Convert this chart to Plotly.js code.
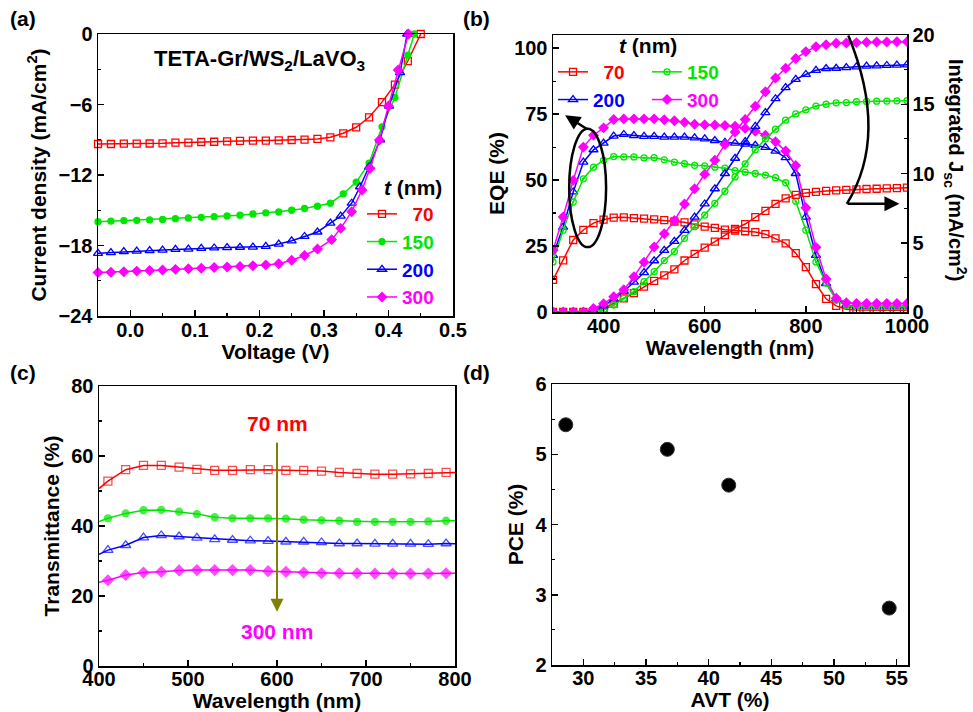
<!DOCTYPE html>
<html>
<head>
<meta charset="utf-8">
<script src="https://cdn.plot.ly/plotly-3.0.1.min.js"></script>
<style>html,body{margin:0;padding:0;background:#fff;}#chart{width:973px;height:712px;}</style>
</head>
<body>
<div id="chart"></div>
<script>
// ---------------- DATA ----------------
// (a) J-V curves
const thickness = ['70', '150', '200', '300'];
const vJ70  = [-0.05,-0.03,-0.01,0.01,0.03,0.05,0.07,0.09,0.11,0.13,0.15,0.17,0.19,0.21,0.23,0.25,0.27,0.29,0.31,0.33,0.35,0.37,0.39,0.41,0.43,0.45];
const jJ70  = [-9.36,-9.36,-9.33,-9.33,-9.32,-9.30,-9.25,-9.24,-9.19,-9.17,-9.13,-9.09,-9.08,-9.07,-9.05,-9.02,-8.99,-8.93,-8.79,-8.45,-7.94,-7.09,-5.80,-4.30,-2.30,0];
const vJ150 = [-0.05,-0.03,-0.01,0.01,0.03,0.05,0.07,0.09,0.11,0.13,0.15,0.17,0.19,0.21,0.23,0.25,0.27,0.29,0.31,0.33,0.35,0.37,0.39,0.41,0.43,0.44];
const jJ150 = [-15.97,-15.92,-15.88,-15.86,-15.82,-15.78,-15.72,-15.66,-15.60,-15.55,-15.49,-15.42,-15.32,-15.22,-15.15,-15.00,-14.85,-14.65,-14.40,-13.60,-12.60,-11.00,-7.90,-5.40,-1.80,0];
const vJ200 = [-0.05,-0.03,-0.01,0.01,0.03,0.05,0.07,0.09,0.11,0.13,0.15,0.17,0.19,0.21,0.23,0.25,0.27,0.29,0.31,0.326,0.343,0.356,0.370,0.387,0.401,0.418,0.429];
const jJ200 = [-18.67,-18.60,-18.52,-18.48,-18.44,-18.39,-18.33,-18.30,-18.24,-18.21,-18.18,-18.15,-18.13,-18.08,-17.88,-17.60,-17.23,-16.85,-16.10,-15.50,-14.40,-13.00,-11.30,-9.00,-6.13,-3.29,0];
const vJ300 = [-0.05,-0.03,-0.01,0.01,0.03,0.05,0.07,0.09,0.11,0.13,0.15,0.17,0.19,0.21,0.23,0.25,0.27,0.29,0.312,0.326,0.343,0.359,0.3715,0.386,0.400,0.415,0.431];
const jJ300 = [-20.30,-20.27,-20.23,-20.18,-20.13,-20.08,-20.03,-19.98,-19.93,-19.88,-19.83,-19.78,-19.72,-19.65,-19.55,-19.25,-18.85,-18.30,-17.50,-16.54,-15.12,-13.28,-11.43,-9.02,-6.13,-3.06,0];

// (b) EQE (%) and integrated Jsc (mA/cm2)
const wlEQE = [300,320,340,360,380,400,420,440,460,480,500,520,540,560,580,600,620,640,660,680,700,720,740,760,780,800,820,840,860,880,900,920,940,960,980,1000];
const eqe70  = [12.2,19.6,27.3,31.1,33.7,35.0,35.8,35.9,35.6,35.4,35.1,34.8,34.3,34.0,33.2,32.4,31.9,31.2,30.9,30.6,30.3,29.5,27.9,26.0,22.3,17.0,10.6,5.0,2.3,1.0,0.8,0.7,0.7,0.7,0.7,0.7];
const eqe150 = [19.0,31.0,41.7,50.5,54.9,57.5,58.9,58.8,58.8,58.4,58.5,57.7,56.8,56.2,55.6,55.4,54.9,54.5,53.6,53.0,52.5,51.9,50.9,49.0,42.0,31.0,19.0,11.0,4.5,2.5,2.1,2.0,2.0,2.0,2.0,2.0];
const eqe200 = [21.5,32.2,45.5,56.8,61.5,64.0,66.7,67.3,66.9,66.6,66.6,66.3,66.3,66.3,66.0,65.6,65.0,64.3,64.0,63.6,63.2,62.4,61.0,58.5,52.5,36.0,21.5,10.8,5.0,2.6,2.2,2.2,2.2,2.2,2.2,2.2];
const eqe300 = [23.4,36.0,49.9,62.5,67.0,69.8,73.0,73.2,73.2,73.2,73.2,72.9,72.5,71.9,71.2,71.0,70.9,70.7,70.4,69.6,68.5,67.0,64.5,61.0,55.5,39.5,24.5,12.5,5.2,3.5,3.2,3.2,3.2,3.2,3.2,3.2];
const jsc70  = [0,0,0,0,0.05,0.25,0.6,0.98,1.37,1.83,2.25,2.65,3.08,3.72,4.2,4.65,5.08,5.55,6.0,6.35,6.85,7.3,7.8,8.2,8.45,8.6,8.68,8.74,8.78,8.82,8.85,8.88,8.9,8.92,8.95,8.98];
const jsc150 = [0,0,0,0,0.03,0.14,0.5,0.99,1.47,2.19,2.91,3.71,4.36,5.32,6.16,7.0,7.85,8.72,9.75,10.7,11.7,12.5,13.2,13.85,14.3,14.6,14.87,15.0,15.1,15.12,15.18,15.2,15.22,15.23,15.25,15.26];
const jsc200 = [0,0,0,0,0.1,0.45,0.95,1.5,2.15,2.85,3.7,4.45,5.1,5.9,6.85,7.8,8.9,10.0,11.1,12.3,13.4,14.4,15.4,16.2,16.8,17.15,17.45,17.58,17.6,17.65,17.7,17.75,17.77,17.8,17.82,17.85];
const jsc300 = [0,0,0,0,0.25,0.6,1.1,1.6,2.55,3.6,4.7,5.65,6.6,7.8,8.9,9.95,10.95,12.1,13.0,13.9,14.85,15.9,16.9,17.6,18.3,18.8,19.15,19.3,19.4,19.42,19.45,19.47,19.49,19.5,19.51,19.52];

// (c) Transmittance (%)
const wlT = [400,410,430,450,470,490,510,530,550,570,590,610,630,650,670,690,710,730,750,770,790,800];
const tr70  = [50.7,52.8,56.1,57.3,57.3,56.8,56.2,55.9,55.9,56.1,56.1,55.9,55.9,55.7,55.3,55.0,54.8,54.8,54.9,55.0,55.3,55.3];
const tr150 = [41.3,42.2,43.6,44.5,44.6,44.1,43.4,42.5,42.2,42.2,42.2,42.1,41.8,41.6,41.5,41.2,41.2,41.2,41.2,41.3,41.5,41.5];
const tr200 = [31.9,33.1,34.5,36.7,37.3,37.0,36.6,36.2,36.0,35.8,35.7,35.5,35.5,35.3,35.0,35.0,34.9,34.9,34.9,34.8,35.0,34.9];
const tr300 = [23.9,24.5,26.0,26.7,26.9,27.3,27.4,27.4,27.4,27.4,27.1,26.9,26.7,26.5,26.5,26.5,26.4,26.4,26.4,26.4,26.5,26.5];

// (d) PCE vs AVT
const avt = [28.6, 36.7, 41.6, 54.4];
const pce = [5.42, 5.07, 4.56, 2.81];

// ---------------- STYLE ----------------
const FONT = 'Liberation Sans, Arial, sans-serif';
const COL = {'70':'#ff0000','150':'#00e600','200':'#0000ff','300':'#ff00ff'};
const SYM_A = {'70':'square-open','150':'circle','200':'triangle-up-open','300':'diamond'};
const SYM_B = {'70':'square-open','150':'circle-open-dot','200':'triangle-up-open','300':'diamond'};
const MSIZE = {'70':7,'150':6,'200':8,'300':7};
const PAD = {'70':'\u00a0\u00a0','150':'','200':'','300':''};

function legName(t){ return '<span style="color:'+COL[t]+'">'+PAD[t]+t+'</span>'; }
function mk(t, sym){ return {symbol: sym[t], size: MSIZE[t], color: COL[t], line:{color:COL[t], width:1.3}}; }

const traces = [];
const jvX = {'70':vJ70,'150':vJ150,'200':vJ200,'300':vJ300};
const jvY = {'70':jJ70,'150':jJ150,'200':jJ200,'300':jJ300};
thickness.forEach(t => traces.push({
  type:'scatter', mode:'lines+markers', x:jvX[t], y:jvY[t], xaxis:'x', yaxis:'y',
  name:legName(t), legend:'legend', line:{color:COL[t], width:1.5}, marker:mk(t, SYM_A), cliponaxis:false
}));

const eqeY = {'70':eqe70,'150':eqe150,'200':eqe200,'300':eqe300};
const jscY = {'70':jsc70,'150':jsc150,'200':jsc200,'300':jsc300};
const legB = {'70':'legend2','200':'legend2','150':'legend3','300':'legend3'};
['70','200','150','300'].forEach(t => traces.push({
  type:'scatter', mode:'lines+markers', x:wlEQE, y:eqeY[t], xaxis:'x2', yaxis:'y2',
  name:legName(t), legend:legB[t], line:{color:COL[t], width:1.5}, marker:mk(t, SYM_B)
}));
thickness.forEach(t => traces.push({
  type:'scatter', mode:'lines+markers', x:wlEQE, y:jscY[t], xaxis:'x2', yaxis:'y3',
  showlegend:false, line:{color:COL[t], width:1.5}, marker:mk(t, SYM_B)
}));

const trY = {'70':tr70,'150':tr150,'200':tr200,'300':tr300};
thickness.forEach(t => {
  const m = mk(t, SYM_A);
  m.size = wlT.map((w,i) => (i===0 || i===wlT.length-1) ? 0 : MSIZE[t]+1);
  traces.push({type:'scatter', mode:'lines+markers', x:wlT, y:trY[t], xaxis:'x3', yaxis:'y4',
    showlegend:false, line:{color:COL[t], width:1.5}, marker:m});
});

traces.push({type:'scatter', mode:'markers', x:avt, y:pce, xaxis:'x4', yaxis:'y5', showlegend:false,
  marker:{symbol:'circle', size:14, color:'#000', line:{color:'#333', width:1}}});

// ---------------- LAYOUT ----------------
const W = 973, H = 712;
const px = v => v / W;
const py = v => 1 - v / H;
const tickFont = {family:FONT, size:20, color:'#000', weight:'bold'};
const titleFont = {family:FONT, size:21, color:'#000', weight:'bold'};
const legFont = {family:FONT, size:19, weight:'bold', color:'#000'};

function ax(opts){
  return Object.assign({
    showline:true, linecolor:'#000', linewidth:1.5, mirror:true,
    ticks:'inside', ticklen:6, tickwidth:1.5, tickcolor:'#000',
    showgrid:false, zeroline:false, automargin:false, tickfont:tickFont
  }, opts);
}
function minor(d){ return {ticks:'inside', ticklen:3, tickwidth:1.2, tickcolor:'#000', dtick:d, showgrid:false}; }

const layout = {
  width:W, height:H, margin:{l:0,r:0,t:0,b:0}, paper_bgcolor:'#fff', plot_bgcolor:'#fff',
  font:{family:FONT, color:'#000'},
  xaxis: ax({domain:[px(98),px(453)], anchor:'y', range:[-0.05,0.5], dtick:0.1, tick0:0, tickformat:'.1f', minor:minor(0.05),
    ticklabelstandoff:-5, title:{text:'Voltage (V)', font:titleFont, standoff:1}}),
  yaxis: ax({domain:[py(316),py(34)], anchor:'x', range:[-24,0], dtick:6, minor:minor(3),
    title:{text:'Current density (mA/cm<sup>2</sup>)', font:titleFont, standoff:6}}),
  xaxis2: ax({domain:[px(553),px(907)], anchor:'y2', range:[300,1000], dtick:200, tick0:0, minor:minor(100),
    ticklabelstandoff:-5, title:{text:'Wavelength (nm)', font:titleFont, standoff:1}}),
  yaxis2: ax({domain:[py(312),py(35)], anchor:'x2', range:[0,105], dtick:25, minor:minor(12.5),
    title:{text:'EQE (%)', font:titleFont, standoff:4}}),
  yaxis3: ax({overlaying:'y2', side:'right', anchor:'x2', range:[0,20], dtick:5, minor:minor(2.5), mirror:false}),
  xaxis3: ax({domain:[px(99),px(455)], anchor:'y4', range:[400,800], dtick:100, minor:minor(50),
    ticklabelstandoff:-6, title:{text:'Wavelength (nm)', font:titleFont, standoff:2}}),
  yaxis4: ax({domain:[py(666),py(386)], anchor:'x3', range:[0,80], dtick:20, minor:minor(10),
    title:{text:'Transmittance (%)', font:titleFont, standoff:6}}),
  xaxis4: ax({domain:[px(552),px(908)], anchor:'y5', range:[27.5,55.9], dtick:5, tick0:0, minor:minor(2.5),
    ticklabelstandoff:-6, title:{text:'AVT (%)', font:titleFont, standoff:2}}),
  yaxis5: ax({domain:[py(665),py(384)], anchor:'x4', range:[2,6], dtick:1, minor:minor(0.5),
    title:{text:'PCE (%)', font:titleFont, standoff:6}}),
  legend:  {x:px(362), y:py(195), xanchor:'left', yanchor:'top', bgcolor:'rgba(0,0,0,0)', font:legFont, itemwidth:30, tracegroupgap:0},
  legend2: {x:px(553), y:py(53), xanchor:'left', yanchor:'top', bgcolor:'rgba(0,0,0,0)', font:legFont, itemwidth:30, tracegroupgap:0},
  legend3: {x:px(647), y:py(53), xanchor:'left', yanchor:'top', bgcolor:'rgba(0,0,0,0)', font:legFont, itemwidth:30, tracegroupgap:0},
  shapes: [
    {type:'circle', xref:'x2', yref:'y2', x0:332, x1:405, y0:24.6, y1:69.5, line:{color:'#000', width:2.5}},
    {type:'path', xref:'x2', yref:'y2', path:'M 884 104.8 Q 965 67 881 41', line:{color:'#000', width:2.5}}
  ],
  annotations: [
    {xref:'paper', yref:'paper', x:px(8), y:py(18), xanchor:'left', yanchor:'middle', text:'(a)', showarrow:false, font:titleFont},
    {xref:'paper', yref:'paper', x:px(461), y:py(18), xanchor:'left', yanchor:'middle', text:'(b)', showarrow:false, font:titleFont},
    {xref:'paper', yref:'paper', x:px(8), y:py(372), xanchor:'left', yanchor:'middle', text:'(c)', showarrow:false, font:titleFont},
    {xref:'paper', yref:'paper', x:px(461), y:py(372), xanchor:'left', yanchor:'middle', text:'(d)', showarrow:false, font:titleFont},
    {xref:'paper', yref:'paper', x:px(259), y:py(60), xanchor:'center', yanchor:'middle', text:'TETA-Gr/WS<sub>2</sub>/LaVO<sub>3</sub>', showarrow:false, font:{family:FONT,size:22,weight:'bold',color:'#000'}},
    {xref:'paper', yref:'paper', x:px(413), y:py(188), xanchor:'center', yanchor:'middle', text:'<i>t</i> (nm)', showarrow:false, font:{family:FONT,size:21,weight:'bold',color:'#000'}},
    {xref:'paper', yref:'paper', x:px(648), y:py(46), xanchor:'center', yanchor:'middle', text:'<i>t</i> (nm)', showarrow:false, font:{family:FONT,size:21,weight:'bold',color:'#000'}},
    {xref:'paper', yref:'paper', x:px(955), y:py(170), xanchor:'center', yanchor:'middle', textangle:90, text:'Integrated J<sub>sc</sub> (mA/cm<sup>2</sup>)', showarrow:false, font:{family:FONT,size:20,weight:'bold',color:'#000'}},
    // panel b arrows
    {xref:'x2', yref:'y2', axref:'x2', ayref:'y2', x:324, y:74.6, ax:370, ay:69, showarrow:true, arrowhead:2, arrowsize:1.2, arrowwidth:2.5, arrowcolor:'#000', text:''},
    {xref:'x2', yref:'y2', axref:'x2', ayref:'y2', x:985, y:41, ax:880, ay:41, showarrow:true, arrowhead:2, arrowsize:1.2, arrowwidth:2.5, arrowcolor:'#000', text:''},
    // panel c arrow + labels
    {xref:'x3', yref:'y4', axref:'x3', ayref:'y4', x:600, y:15.5, ax:600, ay:64.2, showarrow:true, arrowhead:2, arrowsize:1.3, arrowwidth:2, arrowcolor:'#7f7f00', text:''},
    {xref:'x3', yref:'y4', x:600, y:69.4, text:'70 nm', showarrow:false, font:{family:FONT,size:21,weight:'bold',color:'#ff0000'}},
    {xref:'x3', yref:'y4', x:600, y:9.8, text:'300 nm', showarrow:false, font:{family:FONT,size:21,weight:'bold',color:'#ff00ff'}}
  ]
};

Plotly.newPlot('chart', traces, layout, {displayModeBar:false, staticPlot:true});
</script>
</body>
</html>
